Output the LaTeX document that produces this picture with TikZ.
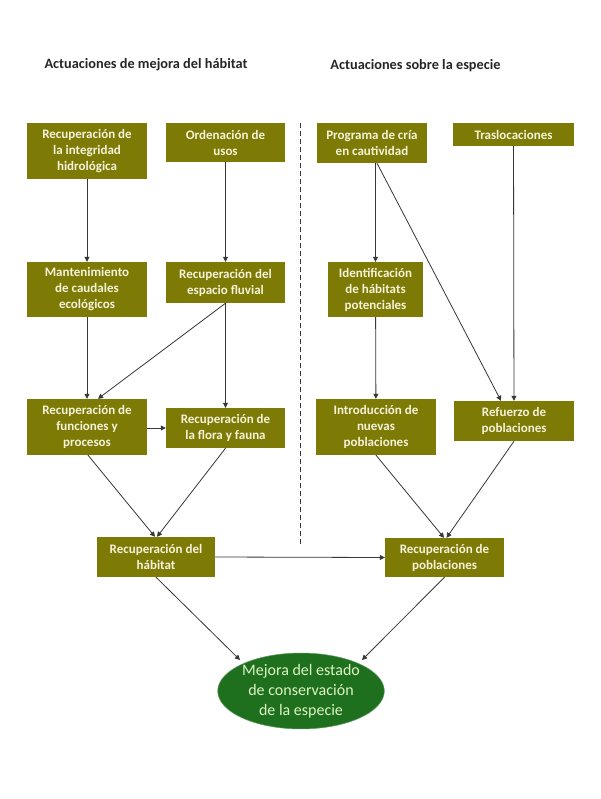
\documentclass[tikz,border=0pt]{standalone}
\usepackage{fontspec}
\setmainfont{Carlito}
\usetikzlibrary{arrows.meta,calc,shapes.geometric}
\definecolor{olivebox}{RGB}{125,123,6}
\definecolor{creamtext}{RGB}{246,242,218}
\definecolor{greenell}{RGB}{30,112,30}
\definecolor{linegray}{RGB}{55,55,55}
\begin{document}
\begin{tikzpicture}[x=1pt,y=-1pt,
  box/.style={rectangle,fill=olivebox,text=creamtext,align=center,inner sep=0pt,
    font=\bfseries\fontsize{13}{16}\selectfont},
  header/.style={font=\bfseries\fontsize{14.3}{17}\selectfont,text=black!85},
  conn/.style={draw=linegray,line width=0.8pt,-{Triangle[length=5pt,width=5pt]}}]
\useasboundingbox (0,0) rectangle (600,799);
\fill[white] (0,0) rectangle (600,799);

\node[header] (h1) at (146,65) {Actuaciones de mejora del hábitat};
\node[header] (h2) at (415.5,66) {Actuaciones sobre la especie};

\node[box,minimum width=120pt,minimum height=56pt] (hidro) at (87,151) {Recuperación de\\la integridad\\hidrológica};
\node[box,minimum width=119pt,minimum height=39pt] (orden) at (225.5,142.5) {Ordenación de\\usos};
\node[box,minimum width=120pt,minimum height=55pt] (caudal) at (87,289.5) {Mantenimiento\\de caudales\\ecológicos};
\node[box,minimum width=119pt,minimum height=41pt] (fluvial) at (225.5,282.5) {Recuperación del\\espacio fluvial};
\node[box,minimum width=120pt,minimum height=56pt] (func) at (87,427) {Recuperación de\\funciones y\\procesos};
\node[box,minimum width=119pt,minimum height=40pt] (flora) at (225.5,428) {Recuperación de\\la flora y fauna};
\node[box,minimum width=118pt,minimum height=40pt] (habitat) at (156,557) {Recuperación del\\hábitat};

\node[box,minimum width=110pt,minimum height=40pt] (prog) at (372,143) {Programa de cría\\en cautividad};
\node[box,minimum width=121pt,minimum height=23pt] (trasl) at (513.5,134.5) {Traslocaciones};
\node[box,minimum width=95pt,minimum height=55pt] (ident) at (375.5,289.5) {Identificación\\de hábitats\\potenciales};
\node[box,minimum width=120pt,minimum height=56pt] (introd) at (376,427) {Introducción de\\nuevas\\poblaciones};
\node[box,minimum width=120pt,minimum height=40pt] (refuerzo) at (514,421) {Refuerzo de\\poblaciones};
\node[box,minimum width=119pt,minimum height=39pt] (recpob) at (444.5,557.5) {Recuperación de\\poblaciones};

\node[ellipse,fill=greenell,draw=greenell!70!white,line width=0.5pt,minimum width=158pt,minimum height=73pt,inner sep=0pt,
  text=creamtext!90!green,align=center,font=\fontsize{16}{20}\selectfont] (ell) at (301,691) {Mejora del estado\\de conservación\\de la especie};

\coordinate (dtop) at (300,123);
\coordinate (dbot) at (300,545);
\draw[linegray,line width=0.9pt,dash pattern=on 5pt off 3pt] (dtop) -- (dbot);

\coordinate (eL) at (240,660);
\coordinate (eR) at (362,660);

\draw[conn] (hidro) -- (caudal);
\draw[conn] (orden) -- (fluvial);
\draw[conn] (caudal) -- (func);
\draw[conn] (fluvial.south) -- ($(func.north)+(11,0)$);
\draw[conn] (fluvial) -- (flora);
\draw[conn] (func.east |- flora) -- (flora.west);
\draw[conn] ($(func.south)+(1,0)$) -- ($(habitat.north)+(-1,0)$);
\draw[conn] (flora.south) -- ($(habitat.north)+(1,0)$);
\draw[conn] (habitat.east) -- (recpob.west);
\draw[conn] (habitat.south) -- (eL);

\draw[conn] ($(prog.south)+(3.5,0)$) -- (ident.north);
\draw[conn] ($(prog.south)+(5,0)$) -- ($(refuerzo.north)+(-13,0)$);
\draw[conn] (trasl) -- (refuerzo);
\draw[conn] (ident) -- (introd);
\draw[conn] (introd.south) -- ($(recpob.north)+(-0.5,0)$);
\draw[conn] (refuerzo.south) -- ($(recpob.north)+(2,0)$);
\draw[conn] (recpob.south) -- (eR);
\end{tikzpicture}
\end{document}
